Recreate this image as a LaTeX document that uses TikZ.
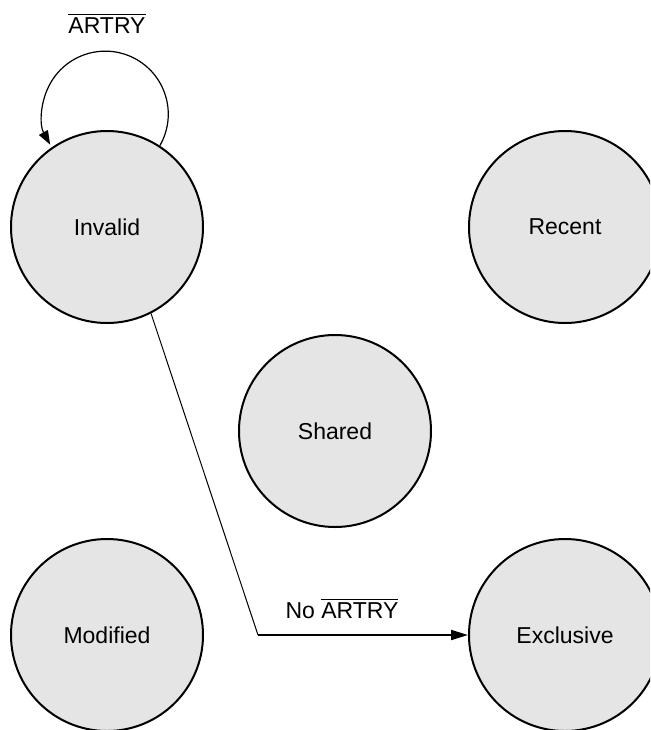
\documentclass[tikz,border=0pt]{standalone}
\usepackage{fontspec}
\setmainfont{Liberation Sans}
\usetikzlibrary{arrows.meta}
\newcommand{\ovl}[1]{$\overline{\mbox{#1}}$}
\begin{document}
\begin{tikzpicture}[x=0.5pt,y=0.5pt,
  state/.style={circle,draw=black,line width=1pt,fill=black!10,inner sep=0pt,minimum size=96pt,font=\fontsize{11.5}{14}\selectfont},
  lbl/.style={anchor=base,inner sep=0pt,font=\fontsize{11.5}{14}\selectfont},
  tip/.style={-{Triangle[length=8.5pt,width=5pt]}}]
\useasboundingbox (0,0) rectangle (650,-730);
\begin{scope}
\clip (0,0) rectangle (650,-730);
\node[state] (inv) at (107,-227) {Invalid};
\node[state] (rec) at (565,-227) {Recent};
\node[state] (sha) at (335,-431) {Shared};
\node[state] (mod) at (107,-635) {Modified};
\node[state] (exc) at (565,-635) {Exclusive};
\end{scope}
\draw[line width=0.6pt,-{Triangle[length=7pt,width=5pt]}] (inv.57) arc[start angle=-30,end angle=209,radius=63];
\node[lbl] (l1) at (107,-33) {\ovl{ARTRY}};
\coordinate (bend) at (258,-635);
\draw[line width=0.5pt] (inv.-63) -- (bend);
\draw[line width=1pt,tip] (bend) -- (exc.west);
\node[lbl] (l2) at (342,-618) {No \ovl{ARTRY}};
\end{tikzpicture}
\end{document}
